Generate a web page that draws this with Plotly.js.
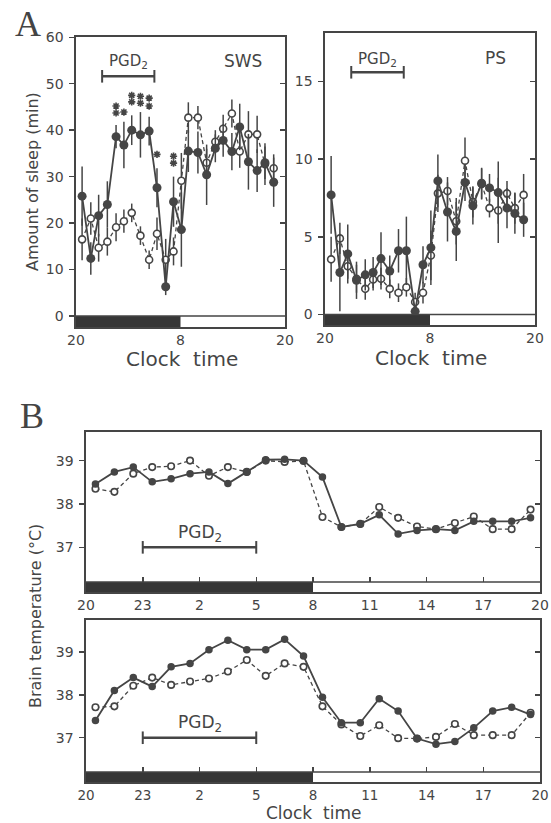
<!DOCTYPE html>
<html><head><meta charset="utf-8">
<script src="https://cdn.plot.ly/plotly-3.0.1.min.js"></script>
<style>html,body{margin:0;padding:0;background:#fff;}#chart{width:551px;height:823px;}</style>
</head><body><div id="chart"></div>
<script>
// ---------- DATA ----------
// Panel A: hourly sleep amounts (min), clock hours after 20:00
const hoursA = [0.7,1.7,2.6,3.6,4.6,5.5,6.4,7.4,8.4,9.3,10.3,11.2,12.1,12.9,14.0,15.0,16.0,16.9,17.9,18.8,19.8,20.8,21.7,22.7];
const swsPGD  = [25.8,12.4,21.6,24.0,38.6,36.8,40.0,39.0,39.8,27.6,6.3,24.6,18.6,35.5,35.2,30.4,36.1,37.8,35.4,40.7,33.2,31.3,33.0,28.8];
const swsPGDerr = [6.4,3.5,4.5,5.0,2.5,5.0,3.2,4.9,3.1,4.2,1.8,5.4,8.0,4.5,4.5,6.5,3.0,3.5,4.0,5.0,6.0,4.6,3.5,5.3];
const swsCtl  = [16.5,21.0,14.7,16.0,19.1,20.4,22.2,17.3,12.1,17.7,12.1,13.9,29.1,42.7,42.7,33.0,37.5,40.3,43.6,35.4,39.1,39.1,32.7,31.8];
const swsCtlErr = [4.5,3.5,3.0,3.0,3.0,2.5,2.0,2.0,2.0,3.5,4.5,3.0,6.0,3.3,2.5,3.0,2.5,3.0,3.0,3.5,5.0,4.0,4.5,3.0];
const psPGD   = [7.7,2.7,3.9,2.2,2.55,2.7,3.6,2.8,4.1,4.1,0.2,3.2,4.3,8.6,6.6,5.35,8.5,7.0,8.45,8.15,7.85,6.85,6.5,6.1];
const psPGDerr = [2.5,2.5,1.9,1.2,1.0,1.0,1.7,1.0,1.4,2.2,0.3,1.2,2.4,1.7,1.9,1.9,1.2,1.2,1.0,0.9,2.0,1.3,1.3,1.1];
const psCtl   = [3.55,4.9,3.1,2.3,1.65,2.25,2.3,1.65,1.4,1.75,0.8,1.4,3.8,7.8,7.95,6.0,9.9,7.25,8.4,6.85,6.7,7.8,6.85,7.7];
const psCtlErr = [1.45,1.0,0.8,0.9,0.7,0.7,0.7,0.6,0.6,0.6,0.6,0.7,1.6,1.2,0.9,1.5,1.5,1.0,1.0,0.6,2.1,0.8,1.0,1.35];
// significance marks (hour, level)
const starX = [4.6,4.6,5.5,6.4,6.4,7.4,7.4,8.4,8.4,9.3,11.2,11.2];
const starY = [45.2,43.7,43.9,47.5,46.1,47.3,45.8,46.9,45.2,34.8,34.4,32.9];
// Panel B: brain temperature (°C)
const hoursB = [0.5,1.5,2.5,3.5,4.5,5.5,6.5,7.5,8.5,9.5,10.5,11.5,12.5,13.5,14.5,15.5,16.5,17.5,18.5,19.5,20.5,21.5,22.5,23.5];
const tempTopPGD = [38.46,38.74,38.85,38.51,38.58,38.7,38.74,38.47,38.74,39.02,39.03,39.0,38.62,37.47,37.54,37.75,37.31,37.39,37.42,37.39,37.6,37.6,37.6,37.68];
const tempTopCtl = [38.35,38.28,38.7,38.85,38.87,39.0,38.65,38.85,38.74,39.0,38.97,38.99,37.7,37.47,37.54,37.93,37.68,37.48,37.42,37.56,37.71,37.42,37.42,37.87];
const tempBotPGD = [37.4,38.1,38.4,38.19,38.65,38.73,39.05,39.27,39.05,39.05,39.29,38.9,37.94,37.35,37.35,37.91,37.62,36.98,36.85,36.91,37.23,37.62,37.71,37.54];
const tempBotCtl = [37.71,37.73,38.21,38.4,38.23,38.31,38.38,38.54,38.81,38.44,38.73,38.65,37.73,37.31,37.04,37.29,36.99,36.98,37.02,37.32,37.06,37.06,37.06,37.58];
// infusion period (hours after 20:00) and ticks
const pgdPeriod = [3, 9];
const tickHoursA = [0, 12, 24];
const tickLabelsA = ['20', '8', '20'];
const tickHoursB = [0, 3, 6, 9, 12, 15, 18, 21, 24];
const tickLabelsB = ['20', '23', '2', '5', '8', '11', '14', '17', '20'];
const nightEnd = 12;

// ---------- STYLE ----------
const W = 551, H = 823;
const C = '#454545', BAR = '#363636';
const FONT = 'DejaVu Sans';
const dx = (a, b) => [a / W, b / W];
const dy = (top, bot) => [1 - bot / H, 1 - top / H];
const px = v => v / W, py = v => 1 - v / H;

const rngSWS = [-2.37, 60.06], rngPS = [-0.68, 18.13], rngBt = [35.97, 39.66], rngBb = [35.97, 39.74];
const barTopB = 36.2;

function series(x, y, err, xa, ya, filled, big) {
  const t = {
    x: x, y: y, xaxis: xa, yaxis: ya, type: 'scatter', mode: 'lines+markers',
    line: filled ? {color: C, width: 1.8} : {color: C, width: 1.3, dash: '4px,3px'},
    marker: filled ? {symbol: 'circle', size: big ? 9 : 7.5, color: C}
                   : {symbol: 'circle', size: big ? 7 : 6.5, color: '#fff', line: {color: C, width: 1.6}},
    showlegend: false, hoverinfo: 'skip', cliponaxis: false
  };
  if (err) t.error_y = {type: 'data', array: err, visible: true, width: 0, thickness: 1.5, color: C};
  return t;
}
function pgdBar(xa, ya, level) {
  return {x: pgdPeriod, y: [level, level], xaxis: xa, yaxis: ya, type: 'scatter', mode: 'lines+markers',
    line: {color: C, width: 2.5}, marker: {symbol: 'line-ns-open', size: 9, color: C, line: {color: C, width: 2}},
    showlegend: false, hoverinfo: 'skip', cliponaxis: false};
}
const blank = (xa, ya) => ({x: [], y: [], xaxis: xa, yaxis: ya, type: 'scatter', showlegend: false});

const traces = [
  series(hoursA, swsCtl, swsCtlErr, 'x', 'y', false, true),
  series(hoursA, swsPGD, swsPGDerr, 'x', 'y', true, true),
  series(hoursA, psCtl, psCtlErr, 'x2', 'y2', false, true),
  series(hoursA, psPGD, psPGDerr, 'x2', 'y2', true, true),
  series(hoursB, tempTopCtl, null, 'x3', 'y3', false, false),
  series(hoursB, tempTopPGD, null, 'x3', 'y3', true, false),
  series(hoursB, tempBotCtl, null, 'x4', 'y4', false, false),
  series(hoursB, tempBotPGD, null, 'x4', 'y4', true, false),
  {x: starX, y: starY, xaxis: 'x', yaxis: 'y', type: 'scatter', mode: 'markers',
   marker: {symbol: 'asterisk-open', size: 6, color: C, line: {color: C, width: 1.6}},
   showlegend: false, hoverinfo: 'skip', cliponaxis: false},
  pgdBar('x', 'y', 51.6), pgdBar('x2', 'y2', 15.6), pgdBar('x3', 'y3', 37.0), pgdBar('x4', 'y4', 37.0),
  blank('x', 'y5'), blank('x2', 'y6'), blank('x3', 'y7'), blank('x4', 'y8'),
  blank('x5', 'y3'), blank('x6', 'y4')
];

const tickfont = {family: FONT, size: 14, color: C};
function xax(dom, anchor, range, tv, tt) {
  return {domain: dom, anchor: anchor, range: range, tickvals: tv, ticktext: tt, ticks: '', showline: true, mirror: true,
    linecolor: C, linewidth: 1.6, showgrid: false, zeroline: false, tickfont: tickfont, fixedrange: true, ticklabelstandoff: 0};
}
function yax(dom, anchor, range, tv) {
  return {domain: dom, anchor: anchor, range: range, tickvals: tv, ticks: 'outside', ticklen: 5, tickwidth: 1.5, tickcolor: C,
    showline: true, mirror: true, linecolor: C, linewidth: 1.6, showgrid: false, zeroline: false, tickfont: tickfont, ticklabelstandoff: 3};
}
function yover(base, anchor, range, tv) {
  return {overlaying: base, side: 'right', anchor: anchor, range: range, tickvals: tv, ticks: 'inside', ticklen: 5, tickwidth: 1.5,
    tickcolor: C, showticklabels: false, showline: false, showgrid: false, zeroline: false};
}
function xover(base, pos, range, tv) {
  return {overlaying: base, anchor: 'free', position: pos, range: range, tickvals: tv, ticks: 'inside', ticklen: 5, tickwidth: 1.5,
    tickcolor: C, showticklabels: false, showline: false, showgrid: false, zeroline: false, side: 'bottom'};
}

const domA1x = dx(76, 285), domA2x = dx(325, 535), domBx = dx(86, 540);
const botB = 782, topB = 620;
const barTopPx = botB - (barTopB - rngBb[0]) / (rngBb[1] - rngBb[0]) * (botB - topB);
const xBot = xax(domBx, 'y4', [0, 24], tickHoursB, tickLabelsB);
xBot.tickfont = {family: FONT, size: 13.5, color: C};
const layout = {
  width: W, height: H, margin: {l: 0, r: 0, t: 0, b: 0}, paper_bgcolor: '#fff', plot_bgcolor: 'rgba(0,0,0,0)',
  showlegend: false, font: {family: FONT, color: C},
  xaxis: xax(domA1x, 'y', [0, 24], tickHoursA, tickLabelsA),
  yaxis: yax(dy(37, 327), 'x', rngSWS, [0, 10, 20, 30, 40, 50, 60]),
  xaxis2: xax(domA2x, 'y2', [0, 24], tickHoursA, tickLabelsA),
  yaxis2: yax(dy(33, 325), 'x2', rngPS, [0, 5, 10, 15]),
  xaxis3: xax(domBx, 'y3', [0, 24], tickHoursB, tickLabelsB),
  yaxis3: yax(dy(432, 592), 'x3', rngBt, [37, 38, 39]),
  xaxis4: xBot,
  yaxis4: yax(dy(topB, botB), 'x4', rngBb, [37, 38, 39]),
  yaxis5: yover('y', 'x', rngSWS, [10, 20, 30, 40, 50, 60]),
  yaxis6: yover('y2', 'x2', rngPS, [5, 10, 15]),
  yaxis7: yover('y3', 'x3', rngBt, [37, 38, 39]),
  yaxis8: yover('y4', 'x4', rngBb, [37, 38, 39]),
  xaxis5: xover('x3', py(582), [0, 24], tickHoursB.slice(1, -1)),
  xaxis6: xover('x4', py(barTopPx), [0, 24], tickHoursB.slice(1, -1)),
  shapes: [
    {type: 'rect', xref: 'x', yref: 'y', x0: 0, x1: nightEnd, y0: rngSWS[0], y1: 0, fillcolor: BAR, line: {width: 0}},
    {type: 'line', xref: 'x', yref: 'y', x0: 0, x1: 24, y0: 0, y1: 0, line: {color: C, width: 1.5}},
    {type: 'rect', xref: 'x2', yref: 'y2', x0: 0, x1: nightEnd, y0: rngPS[0], y1: 0, fillcolor: BAR, line: {width: 0}},
    {type: 'line', xref: 'x2', yref: 'y2', x0: 0, x1: 24, y0: 0, y1: 0, line: {color: C, width: 1.5}},
    {type: 'rect', xref: 'x3', yref: 'y3', x0: 0, x1: nightEnd, y0: rngBt[0], y1: barTopB, fillcolor: BAR, line: {width: 0}},
    {type: 'line', xref: 'x3', yref: 'y3', x0: 0, x1: 24, y0: barTopB, y1: barTopB, line: {color: C, width: 1.5}},
    {type: 'rect', xref: 'x4', yref: 'y4', x0: 0, x1: nightEnd, y0: rngBb[0], y1: barTopB, fillcolor: BAR, line: {width: 0}},
    {type: 'line', xref: 'x4', yref: 'y4', x0: 0, x1: 24, y0: barTopB, y1: barTopB, line: {color: C, width: 1.5}}
  ],
  annotations: [
    {text: 'A', xref: 'paper', yref: 'paper', x: px(28), y: py(24), showarrow: false, xanchor: 'center', yanchor: 'middle',
     font: {family: 'Liberation Serif', size: 36, color: '#444'}},
    {text: 'B', xref: 'paper', yref: 'paper', x: px(32), y: py(416), showarrow: false, xanchor: 'center', yanchor: 'middle',
     font: {family: 'Liberation Serif', size: 36, color: '#444'}},
    {text: 'SWS', xref: 'paper', yref: 'paper', x: px(243), y: py(61), showarrow: false, xanchor: 'center', yanchor: 'middle',
     font: {family: FONT, size: 17, color: C}},
    {text: 'PS', xref: 'paper', yref: 'paper', x: px(495), y: py(58), showarrow: false, xanchor: 'center', yanchor: 'middle',
     font: {family: FONT, size: 17, color: C}},
    {text: 'PGD<sub>2</sub>', xref: 'x', yref: 'y', x: 6, y: 54.8, showarrow: false, xanchor: 'center', yanchor: 'middle',
     font: {family: FONT, size: 15, color: C}},
    {text: 'PGD<sub>2</sub>', xref: 'x2', yref: 'y2', x: 6, y: 16.4, showarrow: false, xanchor: 'center', yanchor: 'middle',
     font: {family: FONT, size: 15, color: C}},
    {text: 'PGD<sub>2</sub>', xref: 'x3', yref: 'y3', x: 6, y: 37.31, showarrow: false, xanchor: 'center', yanchor: 'middle',
     font: {family: FONT, size: 17, color: C}},
    {text: 'PGD<sub>2</sub>', xref: 'x4', yref: 'y4', x: 6, y: 37.33, showarrow: false, xanchor: 'center', yanchor: 'middle',
     font: {family: FONT, size: 17, color: C}},
    {text: 'Clock  time', xref: 'paper', yref: 'paper', x: px(182), y: py(359), showarrow: false, xanchor: 'center', yanchor: 'middle',
     font: {family: FONT, size: 20, color: C}},
    {text: 'Clock  time', xref: 'paper', yref: 'paper', x: px(431), y: py(358), showarrow: false, xanchor: 'center', yanchor: 'middle',
     font: {family: FONT, size: 20, color: C}},
    {text: 'Clock  time', xref: 'paper', yref: 'paper', x: px(313), y: py(812.5), showarrow: false, xanchor: 'center', yanchor: 'middle',
     font: {family: FONT, size: 17, color: C}},
    {text: 'Amount of sleep (min)', xref: 'paper', yref: 'paper', x: px(32), y: py(182), showarrow: false, textangle: -90,
     xanchor: 'center', yanchor: 'middle', font: {family: FONT, size: 16, color: C}},
    {text: 'Brain temperature (°C)', xref: 'paper', yref: 'paper', x: px(35), y: py(616), showarrow: false, textangle: -90,
     xanchor: 'center', yanchor: 'middle', font: {family: FONT, size: 16, color: C}}
  ]
};

Plotly.newPlot('chart', traces, layout, {staticPlot: true, displayModeBar: false});
</script></body></html>
